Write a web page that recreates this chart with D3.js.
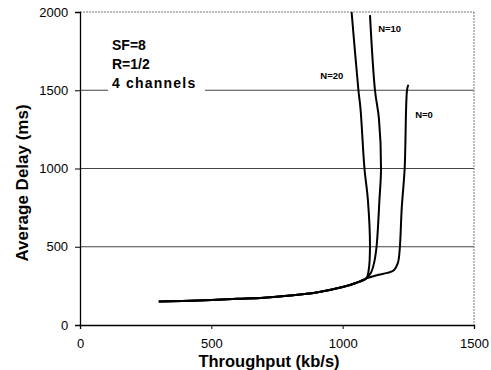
<!DOCTYPE html>
<html><head><meta charset="utf-8">
<script src="https://cdn.jsdelivr.net/npm/d3@7"></script>
<style>body{margin:0;background:#fff}svg{display:block}text{font-family:Arial,"Liberation Sans",sans-serif}</style>
</head><body><svg id="c" width="491" height="370"></svg>
<script>
const xTicks = [0, 500, 1000, 1500];
const yTicks = [0, 500, 1000, 1500, 2000];
const seriesNames = ["N=0", "N=10", "N=20"];
const commonPart = [[300,150],[450,157],[600,167],[700,174],[800,188],[900,208],[1000,243],[1050,268],[1090,298]];
const n0Values = [[1130,318],[1170,333],[1195,350],[1210,395],[1217,480],[1225,750],[1236,1000],[1245,1500],[1250,1535]];
const n10Values = [[1108,335],[1120,400],[1129,500],[1140,800],[1146,1000],[1138,1320],[1123,1500],[1104,1980]];
const n20Values = [[1099,350],[1104,500],[1096,800],[1083,1000],[1068,1380],[1060,1500],[1034,2000]];
const labels = [["N=0",1276,1320],["N=10",1135,1870],["N=20",915,1570]];
const annotation = ["SF=8","R=1/2","4 channels"];

const svg = d3.select("#c");
const m = {l:80, t:12, r:17, b:45};
const W = 491 - m.l - m.r, H = 370 - m.t - m.b;
const g = svg.append("g").attr("transform",`translate(${m.l},${m.t})`);
const x = d3.scaleLinear().domain([0,1500]).range([0,W]);
const y = d3.scaleLinear().domain([0,2000]).range([H,0]);

// gridlines
g.selectAll(".grid").data([500,1000,1500]).enter().append("line")
  .attr("x1",0).attr("x2",W).attr("y1",d=>y(d)).attr("y2",d=>y(d))
  .attr("stroke","#444").attr("stroke-width",1);
// top and right border dotted
g.append("line").attr("x1",0).attr("x2",W).attr("y1",y(2000)).attr("y2",y(2000))
  .attr("stroke","#777").attr("stroke-width",1).attr("stroke-dasharray","2,1");
g.append("line").attr("x1",W).attr("x2",W).attr("y1",0).attr("y2",H)
  .attr("stroke","#777").attr("stroke-width",1).attr("stroke-dasharray","2,1");

// annotation
const ann = g.append("g");
annotation.forEach((t,i)=>{
  const ty = 38 + i*19;
  if (i===2) ann.append("rect").attr("x",28).attr("y",ty-13).attr("width",97).attr("height",17).attr("fill","#fff");
  ann.append("text").attr("x",32).attr("y",ty).attr("font-size",14).attr("font-weight","bold")
    .attr("letter-spacing", i===2 ? 1.2 : 0).text(t);
});

// axes
const xAxis = g.append("g").attr("transform",`translate(0,${H})`)
  .call(d3.axisBottom(x).tickValues(xTicks).tickSize(4).tickFormat(d3.format("d")));
const yAxis = g.append("g")
  .call(d3.axisLeft(y).tickValues(yTicks).tickSize(5).tickFormat(d3.format("d")));
[xAxis,yAxis].forEach(a=>{
  a.select(".domain").attr("stroke","#000").attr("stroke-width",1.3);
  a.selectAll(".tick line").attr("stroke","#000");
  a.selectAll("text").attr("font-size",13).attr("fill","#000").attr("font-family","Arial, 'Liberation Sans', sans-serif");
});
xAxis.selectAll("text").attr("dy","1.2em");
yAxis.selectAll("text").attr("dx","-0.3em");

// curves
const line = d3.line().x(d=>x(d[0])).y(d=>y(d[1])).curve(d3.curveCatmullRom.alpha(0.5));
[n0Values,n10Values,n20Values].forEach(s=>{
  g.append("path").datum(commonPart.concat(s)).attr("d",line)
    .attr("fill","none").attr("stroke","#000").attr("stroke-width",2);
});

// series labels
labels.forEach(([t,vx,vy])=>{
  g.append("text").attr("x",x(vx)).attr("y",y(vy)).attr("font-size",9.5).attr("font-weight","bold").text(t);
});

// axis titles
svg.append("text").attr("x",269).attr("y",367).attr("text-anchor","middle")
  .attr("font-size",16.5).attr("font-weight","bold").text("Throughput (kb/s)");
svg.append("text").attr("transform",`translate(28,183)rotate(-90)`).attr("text-anchor","middle")
  .attr("font-size",17).attr("font-weight","bold").text("Average Delay (ms)");
</script></body></html>
